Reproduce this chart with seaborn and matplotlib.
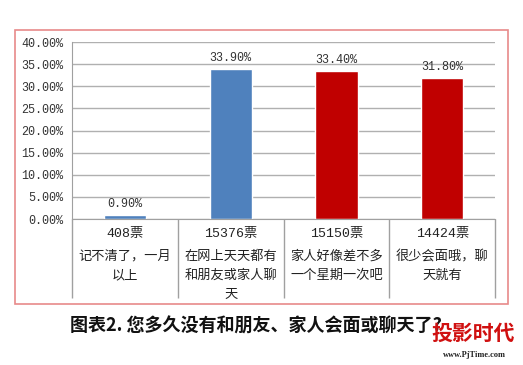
import matplotlib
matplotlib.use("Agg")
import matplotlib.pyplot as plt
import seaborn as sns
import pandas as pd
from matplotlib.patches import Rectangle

# survey data
votes = ["408票", "15376票", "15150票", "14424票"]
answers = ["记不清了，一月\n以上",
           "在网上天天都有\n和朋友或家人聊\n天",
           "家人好像差不多\n一个星期一次吧",
           "很少会面哦，聊\n天就有"]
shares = [0.90, 33.90, 33.40, 31.80]
bar_colors = ["#4F81BD", "#4F81BD", "#C00000", "#C00000"]
yticks = [0, 5, 10, 15, 20, 25, 30, 35, 40]

df = pd.DataFrame({"votes": votes, "share": shares})

sns.set_style("white")
plt.rcParams['font.family'] = ['Noto Sans CJK SC', 'DejaVu Sans']
mono = ['Liberation Mono', 'Noto Sans CJK SC']

fig = plt.figure(figsize=(5.23, 3.65), dpi=100)
ax = fig.add_axes([0.1377, 0.40, 0.809, 0.4849])

sns.barplot(data=df, x="votes", y="share", hue="votes",
            palette=bar_colors, width=0.4, legend=False, ax=ax, saturation=1)

ax.set_ylim(0, 40)
ax.set_xlim(-0.5, 3.5)
ax.set_yticks(yticks)
ax.set_yticklabels([f"{v:.2f}%" for v in yticks], family="Liberation Mono",
                   fontsize=8.5, color="#333333")
ax.yaxis.grid(True, color="#B0B0B0", linewidth=1)
ax.set_axisbelow(True)
ax.tick_params(axis="y", length=4, color="#A0A0A0", pad=2)
ax.set_xticks([])
ax.set_xlabel("")
ax.set_ylabel("")
for s in ["top", "right"]:
    ax.spines[s].set_visible(False)
for s in ["left", "bottom"]:
    ax.spines[s].set_color("#A0A0A0")

# value labels
for i, v in enumerate(shares):
    ax.text(i, v + 1.2, f"{v:.2f}%", ha="center", va="bottom",
            family="Liberation Mono", fontsize=8.5, color="#333333")

# category table below the axis
trans = ax.get_xaxis_transform()
ax.vlines([-0.5, 0.5, 1.5, 2.5, 3.5], -0.448, 0, transform=trans,
          colors="#A0A0A0", linewidth=1, clip_on=False)
for i in range(len(votes)):
    ax.text(i, -0.085, votes[i], transform=trans, ha="center", va="center",
            family=mono, fontsize=9.5, color="#222222")
    ax.text(i, -0.175, answers[i], transform=trans, ha="center", va="top",
            fontsize=9.5, color="#222222", linespacing=1.6)

# chart frame
fig.patches.append(Rectangle((0.0287, 0.167), 0.9426, 0.751,
                             transform=fig.transFigure, fill=False,
                             edgecolor="#E88A8A", linewidth=1.2))

fig.text(0.49, 0.108, "图表2. 您多久没有和朋友、家人会面或聊天了?",
         ha="center", va="center", fontsize=13, fontweight="bold",
         color="#111111")
fig.text(0.905, 0.088, "投影时代", ha="center", va="center", fontsize=15,
         fontweight="bold", color="#D01010")
fig.text(0.907, 0.027, "www.PjTime.com", ha="center", va="center",
         fontsize=6, fontweight="bold", family="Liberation Serif",
         color="#222222")

fig.savefig("out.png", dpi=100)
